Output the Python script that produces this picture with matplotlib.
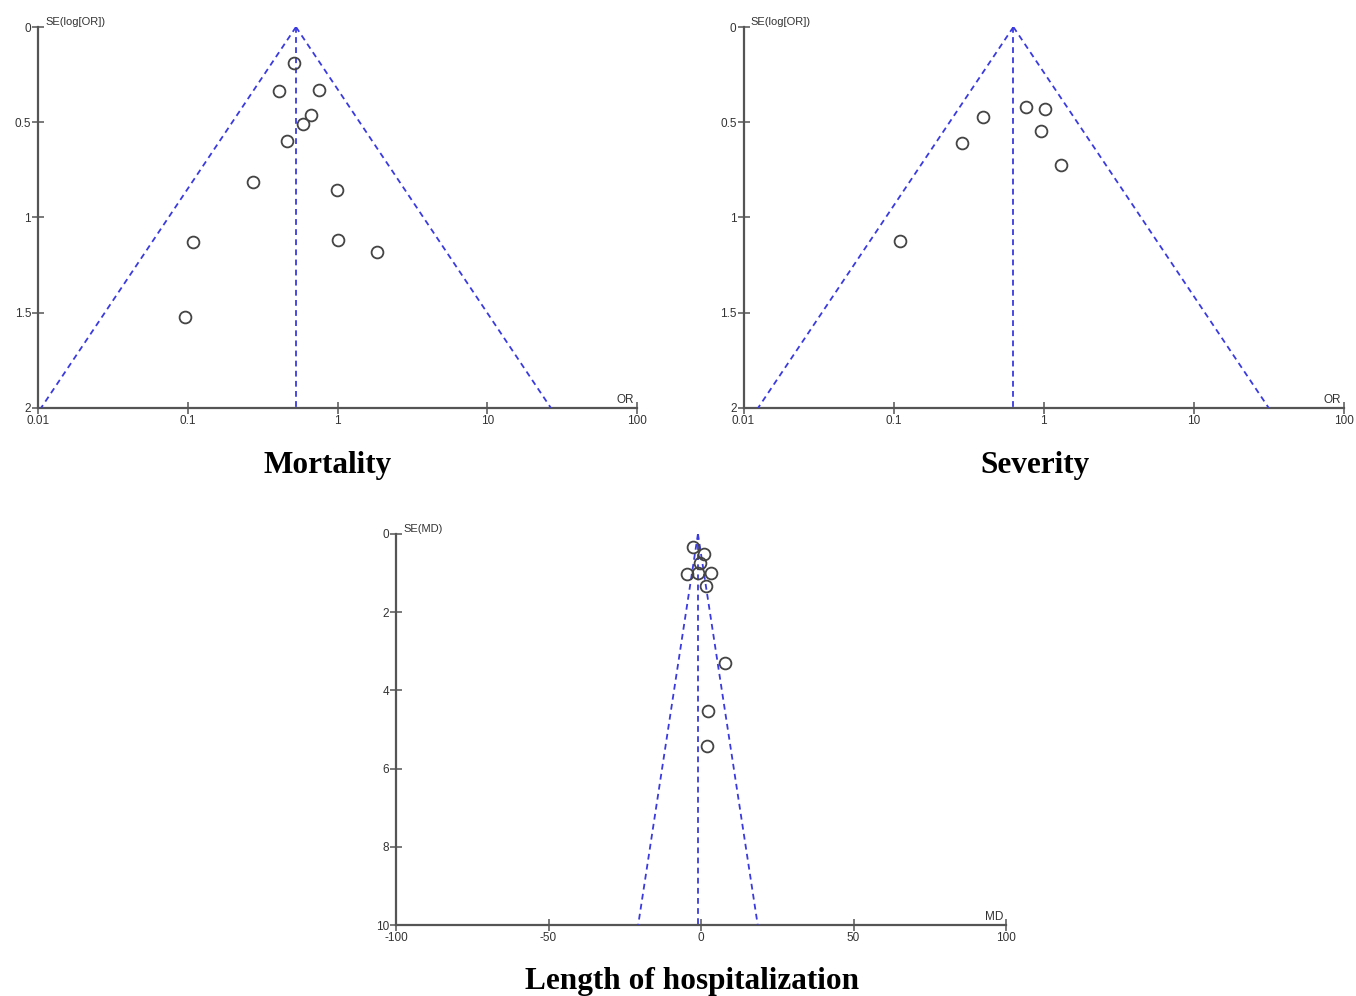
import numpy as np
import matplotlib
matplotlib.use("Agg")
import matplotlib.pyplot as plt

# ---- data ----
mort_or = [0.512, 0.406, 0.752, 0.665, 0.586, 0.458, 0.274, 0.99, 0.109, 1.0, 1.84, 0.096]
mort_se = [0.189, 0.336, 0.331, 0.462, 0.511, 0.600, 0.812, 0.856, 1.127, 1.118, 1.181, 1.521]
mort_pooled = 0.528

sev_or = [0.764, 1.023, 0.394, 0.96, 0.285, 1.31, 0.110]
sev_se = [0.422, 0.430, 0.472, 0.544, 0.611, 0.723, 1.122]
sev_pooled = 0.63

los_md = [-2.6, 1.0, -0.3, -4.6, -1.0, 3.3, 1.6, 7.9, 2.3, 2.0]
los_se = [0.33, 0.51, 0.74, 1.02, 1.0, 1.0, 1.33, 3.30, 4.53, 5.42]
los_pooled = -1.0

or_ticks = [0.01, 0.1, 1, 10, 100]
or_ticklabels = ["0.01", "0.1", "1", "10", "100"]
or_se_ticks = [0, 0.5, 1, 1.5, 2]
or_se_ticklabels = ["0", "0.5", "1", "1.5", "2"]
md_ticks = [-100, -50, 0, 50, 100]
md_ticklabels = ["-100", "-50", "0", "50", "100"]
md_se_ticks = [0, 2, 4, 6, 8, 10]
md_se_ticklabels = ["0", "2", "4", "6", "8", "10"]

plt.rcParams["font.family"] = ["Liberation Sans", "DejaVu Sans"]

W, H = 1356, 996
fig = plt.figure(figsize=(W / 100, H / 100), dpi=100)

SPINE = "#555555"
BLUE = "#3a3ae0"
TXT = "#333333"
DASH = (0, (3.2, 2.4))


def frac(l, r, t, b):
    return [l / W, 1 - b / H, (r - l) / W, (b - t) / H]


def style(ax):
    for s in ["top", "right"]:
        ax.spines[s].set_visible(False)
    for s in ["left", "bottom"]:
        ax.spines[s].set_color(SPINE)
        ax.spines[s].set_linewidth(1.6)
    ax.tick_params(direction="inout", length=8, width=1.1, color=SPINE,
                   labelsize=8.5, labelcolor=TXT, pad=1)
    ax.tick_params(axis="x", which="minor", bottom=False)
    for sp in ax.spines.values():
        sp.set_zorder(1)


def funnel_or(ax, ors, ses, pooled, ylabel, xlabel):
    se_line = np.array([0.0, 2.0])
    lo = np.exp(np.log(pooled) - 1.96 * se_line)
    hi = np.exp(np.log(pooled) + 1.96 * se_line)
    ax.plot(lo, se_line, ls=DASH, color=BLUE, lw=1.3, zorder=2)
    ax.plot(hi, se_line, ls=DASH, color=BLUE, lw=1.3, zorder=2)
    ax.plot([pooled, pooled], [0, 2], ls=DASH, color=BLUE, lw=1.3, zorder=2)
    ax.plot(ors, ses, "o", mfc="none", mec="#444444", mew=1.3, ms=8.5, zorder=3)
    ax.set_xscale("log")
    ax.set_xlim(0.01, 100)
    ax.set_ylim(2, 0)
    ax.set_xticks(or_ticks)
    ax.set_xticklabels(or_ticklabels)
    ax.set_yticks(or_se_ticks)
    ax.set_yticklabels(or_se_ticklabels)
    style(ax)
    ax.text(0.012, 1.0, ylabel, transform=ax.transAxes, ha="left", va="bottom",
            fontsize=8, color=TXT)
    ax.text(0.995, 0.006, xlabel, transform=ax.transAxes, ha="right", va="bottom",
            fontsize=8.5, color=TXT)


TITLE_KW = dict(ha="center", va="center", fontsize=22.5, fontweight="bold",
                family="Liberation Serif")

ax1 = fig.add_axes(frac(38, 637, 27, 408))
funnel_or(ax1, mort_or, mort_se, mort_pooled, "SE(log[OR])", "OR")
fig.text(328 / W, 1 - 465 / H, "Mortality", **TITLE_KW)

ax2 = fig.add_axes(frac(743.5, 1343.5, 27, 408))
funnel_or(ax2, sev_or, sev_se, sev_pooled, "SE(log[OR])", "OR")
fig.text(1035 / W, 1 - 465 / H, "Severity", **TITLE_KW)

ax3 = fig.add_axes(frac(396, 1006, 534, 925))
se_line = np.array([0.0, 10.0])
ax3.plot(los_pooled - 1.96 * se_line, se_line, ls=DASH, color=BLUE, lw=1.3, zorder=2)
ax3.plot(los_pooled + 1.96 * se_line, se_line, ls=DASH, color=BLUE, lw=1.3, zorder=2)
ax3.plot([los_pooled, los_pooled], [0, 10], ls=DASH, color=BLUE, lw=1.3, zorder=2)
ax3.plot(los_md, los_se, "o", mfc="none", mec="#444444", mew=1.3, ms=8.5, zorder=3)
ax3.set_xlim(-100, 100)
ax3.set_ylim(10, 0)
ax3.set_xticks(md_ticks)
ax3.set_xticklabels(md_ticklabels)
ax3.set_yticks(md_se_ticks)
ax3.set_yticklabels(md_se_ticklabels)
style(ax3)
ax3.text(0.012, 1.0, "SE(MD)", transform=ax3.transAxes, ha="left", va="bottom",
         fontsize=8, color=TXT)
ax3.text(0.995, 0.006, "MD", transform=ax3.transAxes, ha="right", va="bottom",
         fontsize=8.5, color=TXT)
fig.text(692 / W, 1 - 981 / H, "Length of hospitalization", **TITLE_KW)

fig.savefig("out.png", dpi=100, facecolor="white")
